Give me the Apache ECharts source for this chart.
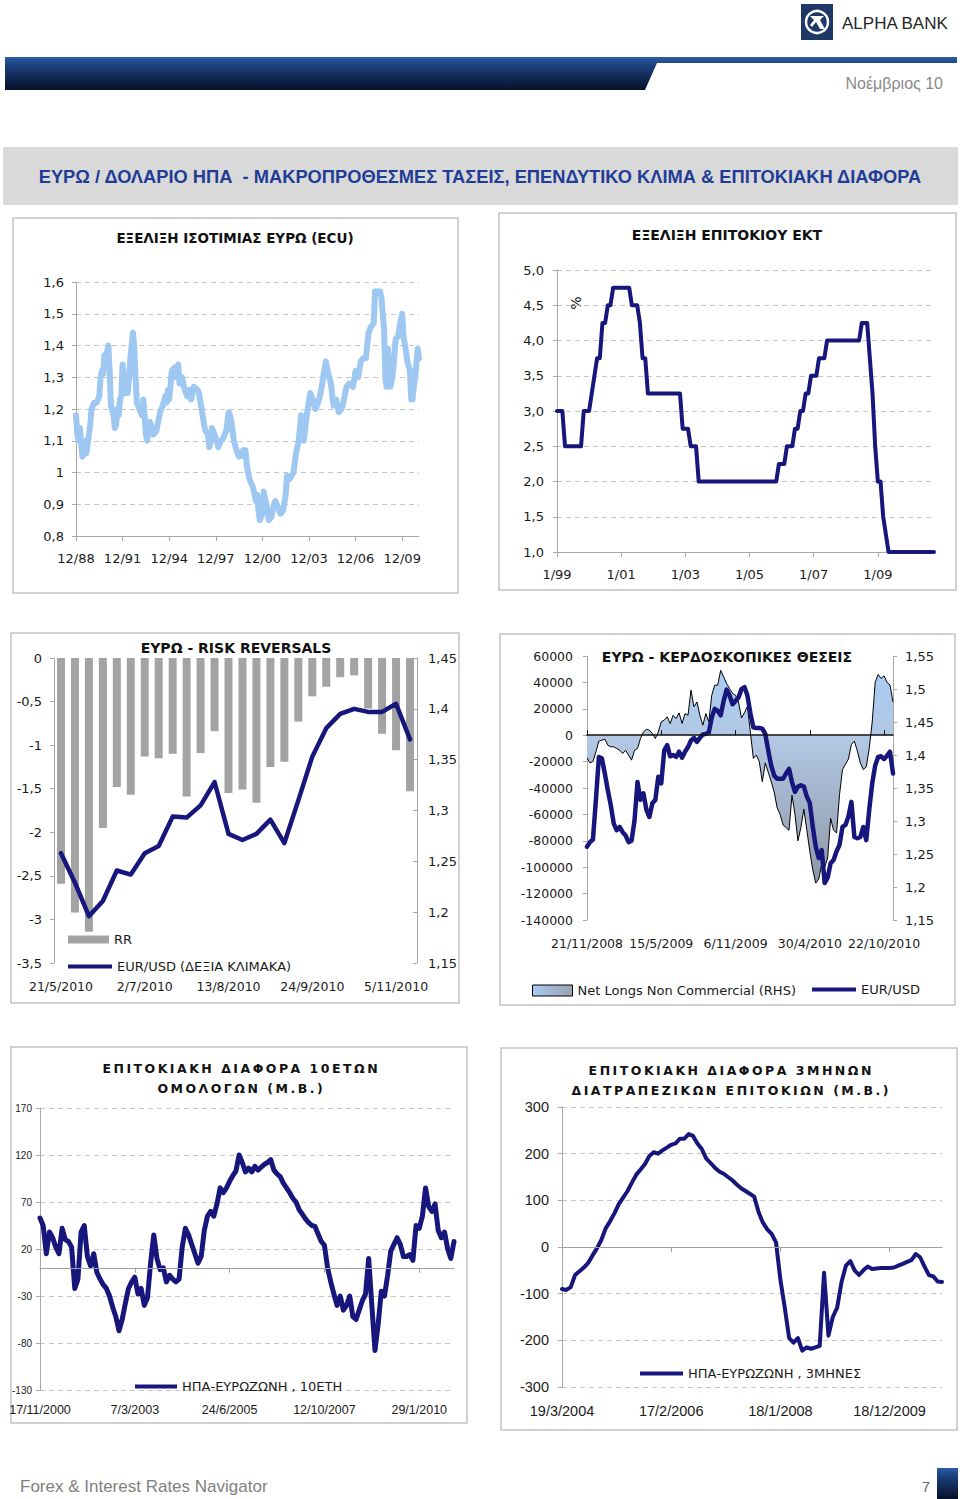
<!DOCTYPE html>
<html><head><meta charset="utf-8">
<script src="https://cdn.jsdelivr.net/npm/echarts@6/dist/echarts.min.js"></script>
<style>html,body{margin:0;padding:0;background:#fff}#c{width:960px;height:1499px}</style>
</head><body><div id="c"></div>
<script>
// ---------------- DATA ----------------
// Chart 1: EUR (ECU) / USD, month offsets from Dec 1988
const ecuMonths = [0,1,2,3,4,5,6,7,8,10, 11,12,14,16,18,19,20,21,22,23, 25,26,27,29,30,31,32,33,34,35,
  36,37,38,39,40,41,42,44,45,46, 47,49,51,52,53,54,55,57,58,60, 62,64,65,67,69,70,71,72,74,76,
  77,79,80,82,84,86,88,89,91,94, 95,97,99,100,102,103,104,105,107,110, 112,114,116,118,119,120,122,124,126,129,
  130,131,132,134,136,137,139,140,141,142, 144,145,146,148,149,151,153,154,155,158, 160,162,163,165,168,170,172,174,175,176,
  178,179,181,182,185,187,189,191,193,195, 197,198,199,201,203,205,206,209,211,214, 216,218,220,222,224,226,228,230,231,233,
  235,236,238,239,240,241,243,245,247,249, 250,252,253,255,256,258,259,260,261,262, 264,265];
const ecuRate = [1.18,1.12,1.10,1.14,1.09,1.05,1.07,1.10,1.06,1.12, 1.15,1.20,1.22,1.22,1.24,1.30,1.32,1.31,1.37,1.36, 1.40,1.32,1.21,1.18,1.14,1.15,1.20,1.18,1.23,1.24,
  1.34,1.29,1.25,1.30,1.25,1.30,1.36,1.44,1.40,1.30, 1.22,1.20,1.18,1.23,1.18,1.12,1.10,1.16,1.15,1.12, 1.13,1.17,1.19,1.21,1.24,1.22,1.26,1.23,1.32,1.33,
  1.30,1.34,1.28,1.30,1.26,1.24,1.26,1.23,1.27,1.26, 1.25,1.20,1.15,1.13,1.12,1.08,1.10,1.14,1.12,1.08, 1.10,1.11,1.13,1.19,1.18,1.16,1.10,1.07,1.05,1.07,
  1.05,1.07,1.02,0.98,0.96,0.95,0.91,0.93,0.88,0.85, 0.87,0.94,0.92,0.88,0.85,0.86,0.90,0.91,0.90,0.87, 0.88,0.93,0.99,0.98,1.00,1.06,1.10,1.18,1.15,1.10,
  1.17,1.20,1.25,1.24,1.20,1.22,1.25,1.30,1.35,1.31, 1.28,1.24,1.21,1.23,1.19,1.20,1.21,1.27,1.28,1.27, 1.32,1.30,1.35,1.36,1.36,1.44,1.46,1.47,1.57,1.57,
  1.57,1.55,1.45,1.30,1.27,1.39,1.27,1.32,1.42,1.43, 1.46,1.50,1.43,1.38,1.35,1.32,1.23,1.23,1.27,1.30, 1.39,1.36];

// Chart 2: ECB rate, monthly from Jan 1999
const ecbRate = [
  3.0,3.0,3.0,2.5,2.5,2.5,2.5,2.5,2.5,2.5,3.0,3.0,
  3.0,3.25,3.5,3.75,3.75,4.25,4.25,4.5,4.5,4.75,4.75,4.75,
  4.75,4.75,4.75,4.75,4.5,4.5,4.5,4.25,3.75,3.75,3.25,3.25,
  3.25,3.25,3.25,3.25,3.25,3.25,3.25,3.25,3.25,3.25,3.25,2.75,
  2.75,2.75,2.5,2.5,2.5,2.0,2.0,2.0,2.0,2.0,2.0,2.0,
  2.0,2.0,2.0,2.0,2.0,2.0,2.0,2.0,2.0,2.0,2.0,2.0,
  2.0,2.0,2.0,2.0,2.0,2.0,2.0,2.0,2.0,2.0,2.0,2.25,
  2.25,2.25,2.5,2.5,2.5,2.75,2.75,3.0,3.0,3.25,3.25,3.5,
  3.5,3.5,3.75,3.75,3.75,4.0,4.0,4.0,4.0,4.0,4.0,4.0,
  4.0,4.0,4.0,4.0,4.0,4.0,4.25,4.25,4.25,3.75,3.25,2.5,
  2.0,2.0,1.5,1.25,1.0,1.0,1.0,1.0,1.0,1.0,1.0,1.0,
  1.0,1.0,1.0,1.0,1.0,1.0,1.0,1.0,1.0,1.0];

// Chart 3: risk reversals (weekly from 21/5/2010)
const rrValues = [-2.59,-2.92,-3.14,-1.95,-1.48,-1.57,-1.13,-1.15,-1.10,-1.59,-1.09,-0.84,-1.55,-1.51,-1.66,-1.25,-1.19,-0.73,-0.44,-0.33,-0.22,-0.20,-0.58,-0.87,-1.06,-1.53];
const rrEurUsd = [1.258,1.229,1.196,1.211,1.241,1.237,1.258,1.265,1.294,1.293,1.305,1.328,1.277,1.271,1.277,1.291,1.268,1.310,1.353,1.381,1.395,1.400,1.397,1.397,1.405,1.370];

// Chart 4: speculative positions (weekly from 21/11/2008)
const netLongs = [-17200,-21000,-20000,-12600,-4500,-3800,-3000,-7600,-8800,-8800,
  -10100,-11400,-13900,-11400,-15100,-18900,-11400,-10100,-2500,2500,
  4500,3800,1300,-2500,2500,10100,11400,13900,8800,15100,
  12600,16900,8800,16400,15100,34100,21500,25200,15100,7600,
  16400,10100,30300,37900,37900,49200,44200,39100,35300,31600,
  30300,25200,13000,17000,22000,2000,-17600,-15100,-20000,-35300,
  -21000,-28000,-35000,-43000,-55000,-60000,-68000,-70000,-72000,-45400,
  -60000,-80000,-70000,-56000,-72000,-88000,-102000,-112000,-109000,-98000,
  -100000,-93000,-63000,-72000,-74000,-45000,-26000,-22000,-18000,-7000,
  -4500,-12000,-21000,-26000,-24000,-10000,10000,40000,46000,43000,
  45000,40000,38000,25000];
const cotEurUsd = [1.261,1.268,1.272,1.332,1.397,1.395,1.372,1.347,1.324,1.296,
  1.286,1.291,1.283,1.278,1.268,1.270,1.301,1.359,1.332,1.342,
  1.317,1.306,1.327,1.332,1.367,1.357,1.407,1.415,1.398,1.400,
  1.397,1.405,1.396,1.405,1.412,1.422,1.426,1.420,1.426,1.431,
  1.432,1.434,1.457,1.470,1.467,1.460,1.482,1.499,1.490,1.477,
  1.482,1.487,1.500,1.503,1.490,1.463,1.442,1.441,1.441,1.440,
  1.432,1.407,1.384,1.369,1.364,1.364,1.364,1.372,1.379,1.359,
  1.344,1.352,1.354,1.352,1.337,1.327,1.291,1.261,1.244,1.256,
  1.206,1.214,1.236,1.241,1.254,1.264,1.291,1.294,1.307,1.329,
  1.276,1.274,1.276,1.291,1.271,1.317,1.357,1.384,1.397,1.398,
  1.394,1.399,1.405,1.372];

// Chart 5: 10y spread US-EZ (bp), every 4 weeks from 17/11/2000
const spread10y = [53,45,15,38,32,22,15,42,30,28,
  22,-22,-12,38,45,12,2,15,-5,-12,
  -18,-22,-30,-42,-52,-67,-55,-38,-22,-15,
  -10,-28,-22,-40,-32,5,35,10,-2,0,
  -15,-8,-12,-15,-12,22,42,35,25,15,
  5,12,40,55,60,55,68,85,80,85,
  92,98,103,120,112,102,106,102,108,104,
  107,110,112,115,104,100,97,90,85,80,
  74,70,62,57,52,48,45,44,36,28,
  24,0,-15,-28,-40,-30,-45,-40,-30,-52,
  -55,-45,-35,-28,10,-40,-88,-60,-25,-30,
  -8,18,25,32,25,12,12,14,8,45,
  42,55,85,65,60,68,40,32,38,20,
  10,28];

// Chart 6: 3m interbank spread US-EZ (bp), every 4 weeks from 19/3/2004
const spread3m = [-90,-92,-86,-60,-52,-44,-34,-18,-3,15,
  40,55,72,92,106,120,138,155,166,178,
  195,203,200,207,213,219,222,232,232,242,
  238,222,210,190,180,170,162,157,150,143,
  134,126,120,114,108,75,52,38,28,10,
  -70,-130,-195,-205,-195,-222,-215,-218,-215,-212,
  -55,-190,-150,-130,-75,-40,-30,-50,-60,-50,
  -42,-47,-46,-45,-45,-45,-44,-40,-36,-32,
  -28,-15,-22,-42,-60,-63,-74,-75];

// ---------------- CATEGORIES ----------------
function monthLabels(startYear, startMonth, n){ const a=[]; for(let i=0;i<n;i++){ const t=startMonth-1+i; a.push((t%12+1)+'/'+String((startYear+Math.floor(t/12))%100).padStart(2,'0')); } return a; }
function dayLabels(y,m,d,stepDays,n){ const a=[]; for(let i=0;i<n;i++){ const dt=new Date(Date.UTC(y,m-1,d)+i*stepDays*86400000); a.push(dt.getUTCDate()+'/'+(dt.getUTCMonth()+1)+'/'+dt.getUTCFullYear()); } return a; }
const ecuCats = monthLabels(1988, 12, 266);
const ecbCats = monthLabels(1999, 1, ecbRate.length);
const rrCats = dayLabels(2010,5,21,7,rrValues.length);
const cotCats = dayLabels(2008,11,21,7,netLongs.length);
const s10Cats = dayLabels(2000,11,17,28,spread10y.length);
const s3Cats = dayLabels(2004,3,19,28,spread3m.length);

// ---------------- STYLE ----------------
const FV = '"DejaVu Sans", Verdana, sans-serif';
const FA = '"Liberation Sans", Arial, sans-serif';
const NAVY = '#16167c';
const AXIS = '#a8a8a8';
const GRIDC = '#c6c6c6';
const TXT = '#1a1a1a';
const dec = d => v => String(+(+v).toFixed(d)).replace('.', ',');
const fix = d => v => (+v).toFixed(d).replace('.', ',');
const spaced = s => s.split('').join('\u2009');

function catAxis(grid, data, o){
  return { gridIndex:grid, type:'category', data, boundaryGap:!!o.gap,
    axisLine:{show:o.line!==false, onZero:false, lineStyle:{color:AXIS}},
    axisTick:{show:o.tick!==false, interval:o.every-1, length:5, lineStyle:{color:AXIS}},
    axisLabel:{interval:o.every-1, margin:o.margin, color:TXT, fontFamily:o.font||FV, fontSize:o.size||13},
    splitLine:{show:false} };
}
function zeroAxis(grid, data, every, color, width, inside){
  return { gridIndex:grid, type:'category', data, boundaryGap:false, z:10,
    axisLine:{show:true, onZero:true, lineStyle:{color, width}},
    axisTick:{show:true, interval:every-1, inside, length:5, lineStyle:{color}},
    axisLabel:{show:false}, splitLine:{show:false} };
}
function valAxis(grid, min, max, interval, o){
  return { gridIndex:grid, type:'value', min, max, interval, position:o.pos||'left',
    axisLine:{show:true, lineStyle:{color:AXIS}},
    axisTick:{show:true, inside:!!o.tickInside, length:4, lineStyle:{color:AXIS}},
    axisLabel:{margin:o.margin, color:TXT, fontFamily:o.font||FV, fontSize:o.size||13, formatter:o.fmt},
    splitLine:{show:!!o.grid, lineStyle:{color:GRIDC, type:[5,4]}} };
}
function lineSeries(name, x, y, data, color, width, z){
  return { name, type:'line', xAxisIndex:x, yAxisIndex:y, data, symbol:'none', z:z||3,
    lineStyle:{color, width, join:'round', cap:'round'}, itemStyle:{color}, animation:false };
}
function lineLegend(name, left, top, w){
  return {data:[name], left, top, padding:0, itemWidth:w, itemHeight:4, icon:'rect', selectedMode:false, textStyle:legendText};
}
function txt(text, x, y, font, fill, align, extra){
  return Object.assign({ type:'text', x, y, silent:true,
    style:{ text, font, fill, align:align||'center', verticalAlign:'middle', textAlign:align||'center', textVerticalAlign:'middle' } }, extra||{});
}
function box(x, y, w, h){ return { type:'rect', silent:true, shape:{x, y, width:w, height:h}, style:{fill:'none', stroke:'#c2c2c2', lineWidth:1.5} }; }

const chart = echarts.init(document.getElementById('c'), null, {renderer:'svg', width:960, height:1499});

const areaGrad = new echarts.graphic.LinearGradient(0,0,0,1,[{offset:0,color:'#a8ccf2'},{offset:0.32,color:'#b2c8e4'},{offset:1,color:'#8e96a6'}]);
const legendGrad = new echarts.graphic.LinearGradient(0,0,1,0,[{offset:0,color:'#a8ccf2'},{offset:1,color:'#9aa2b0'}]);
const barGrad = new echarts.graphic.LinearGradient(0,0,0,1,[{offset:0,color:'#2b5ca6'},{offset:0.25,color:'#1b417e'},{offset:1,color:'#06112a'}]);
const legendText = {fontFamily:FV, fontSize:13, color:TXT};

const option = {
  animation:false,
  backgroundColor:'#ffffff',
  grid:[
    {left:76, top:282, width:343, height:254},
    {left:557, top:270, width:377, height:282},
    {left:54, top:658, width:363, height:305},
    {left:587, top:656, width:306, height:264},
    {left:40, top:1108, width:414, height:282},
    {left:562, top:1107, width:380, height:280}
  ].map(g => Object.assign(g, {containLabel:false, outerBoundsMode:'none'})),
  xAxis:[
    catAxis(0, ecuCats, {every:36, margin:16}),
    catAxis(1, ecbCats, {every:24, margin:16}),
    catAxis(2, rrCats, {every:6, margin:17, gap:true, line:false, tick:false, size:12.5}),
    catAxis(3, cotCats, {every:25, margin:17, line:false, tick:false, size:12.5}),
    zeroAxis(3, cotCats, 25, '#111111', 1.5, false),
    catAxis(4, s10Cats, {every:30, margin:13, line:false, tick:false, font:FA, size:12.5}),
    zeroAxis(4, s10Cats, 30, '#a0a0a0', 1, true),
    catAxis(5, s3Cats, {every:25, margin:16, line:false, tick:false, font:FA, size:14.5}),
    zeroAxis(5, s3Cats, 25, '#a0a0a0', 1, true)
  ],
  yAxis:[
    valAxis(0, 0.8, 1.6, 0.1, {margin:12, fmt:dec(1), grid:true}),
    valAxis(1, 1, 5, 0.5, {margin:13, fmt:fix(1), grid:true}),
    valAxis(2, -3.5, 0, 0.5, {margin:12, fmt:dec(1)}),
    valAxis(2, 1.15, 1.45, 0.05, {pos:'right', margin:11, fmt:dec(2), tickInside:true}),
    valAxis(3, -140000, 60000, 20000, {margin:14, fmt:v=>String(Math.round(v)), size:12.5}),
    valAxis(3, 1.15, 1.55, 0.05, {pos:'right', margin:12, fmt:dec(2)}),
    valAxis(4, -130, 170, 50, {margin:8, fmt:v=>String(Math.round(v)), font:FA, size:10, grid:true}),
    valAxis(5, -300, 300, 100, {margin:13, fmt:v=>String(Math.round(v)), font:FA, size:14.5, grid:true})
  ],
  legend:[
    {data:['RR'], left:68, top:933, padding:0, itemWidth:41, itemHeight:8, icon:'rect', selectedMode:false, textStyle:legendText},
    lineLegend('EUR/USD (ΔΕΞΙΑ ΚΛΙΜΑΚΑ)', 68, 960, 44),
    {data:['Net Longs Non Commercial (RHS)'], left:532, top:984, padding:0, itemWidth:40, itemHeight:11, icon:'rect', selectedMode:false,
      itemStyle:{color:legendGrad, borderColor:'#000', borderWidth:1}, textStyle:legendText},
    lineLegend('EUR/USD', 812, 983, 44),
    lineLegend('ΗΠΑ-ΕΥΡΩΖΩΝΗ , 10ΕΤΗ', 135, 1380, 42),
    lineLegend('ΗΠΑ-ΕΥΡΩΖΩΝΗ , 3ΜΗΝΕΣ', 640, 1367, 43)
  ],
  series:[
    lineSeries('ECU', 0, 0, ecuMonths.map((m,i)=>[m, ecuRate[i]]), '#9ec8f2', 6),
    lineSeries('ECB', 1, 1, ecbRate, NAVY, 4),
    { name:'RR', type:'bar', xAxisIndex:2, yAxisIndex:2, data:rrValues, barWidth:8, itemStyle:{color:'#a3a3a3'}, z:2 },
    lineSeries('EUR/USD (ΔΕΞΙΑ ΚΛΙΜΑΚΑ)', 2, 3, rrEurUsd, NAVY, 4.5),
    { name:'Net Longs Non Commercial (RHS)', type:'line', xAxisIndex:3, yAxisIndex:4, data:netLongs, symbol:'none', z:2,
      lineStyle:{color:'#000', width:1}, itemStyle:{color:'#000'}, areaStyle:{color:areaGrad, opacity:1} },
    lineSeries('EUR/USD', 3, 5, cotEurUsd, NAVY, 4.5, 4),
    lineSeries('ΗΠΑ-ΕΥΡΩΖΩΝΗ , 10ΕΤΗ', 5, 6, spread10y, NAVY, 5),
    lineSeries('ΗΠΑ-ΕΥΡΩΖΩΝΗ , 3ΜΗΝΕΣ', 7, 7, spread3m, NAVY, 4)
  ],
  graphic:{ elements:[
    // header
    {type:'rect', silent:true, shape:{x:801, y:4, width:32, height:36}, style:{fill:'#1d3767'}},
    {type:'circle', silent:true, shape:{cx:817, cy:22, r:11}, style:{fill:'none', stroke:'#ffffff', lineWidth:2.5}},
    {type:'polygon', silent:true, shape:{points:[[810,16],[824,16],[820,20],[825,29],[820,29],[816,22],[812,27],[810,25],[814,20]]}, style:{fill:'#ffffff'}},
    txt('ALPHA BANK', 842, 23, '17px "Liberation Sans", Arial, sans-serif', '#262626', 'left'),
    {type:'polygon', silent:true, shape:{points:[[5,57],[957,57],[957,63],[657,63],[645,90],[5,90]]}, style:{fill:barGrad}},
    txt('Νοέμβριος 10', 943, 83, '16px "Liberation Sans", Arial, sans-serif', '#8a8a8a', 'right'),
    {type:'rect', silent:true, shape:{x:3, y:147, width:955, height:58}, style:{fill:'#d9d9d9'}},
    txt('ΕΥΡΩ / ΔΟΛΑΡΙΟ ΗΠΑ  - ΜΑΚΡΟΠΡΟΘΕΣΜΕΣ ΤΑΣΕΙΣ, ΕΠΕΝΔΥΤΙΚΟ ΚΛΙΜΑ & ΕΠΙΤΟΚΙΑΚΗ ΔΙΑΦΟΡΑ', 480, 176, 'bold 18.3px "Liberation Sans", Arial, sans-serif', '#1f3c96'),
    // panels
    box(13, 218, 445, 375), box(499, 213, 457, 377), box(11, 633, 448, 370),
    box(500, 634, 455, 371), box(11, 1047, 456, 376), box(501, 1048, 456, 382),
    // titles
    txt('ΕΞΕΛΙΞΗ ΙΣΟΤΙΜΙΑΣ ΕΥΡΩ (ECU)', 235, 238, 'bold 13.5px "DejaVu Sans", Verdana, sans-serif', '#111'),
    txt('ΕΞΕΛΙΞΗ ΕΠΙΤΟΚΙΟΥ ΕΚΤ', 727, 235, 'bold 14px "DejaVu Sans", Verdana, sans-serif', '#111'),
    txt('%', 576, 303, '14px "DejaVu Sans", Verdana, sans-serif', '#111', 'center', {rotation:Math.PI/2}),
    txt('ΕΥΡΩ - RISK REVERSALS', 236, 648, 'bold 14px "DejaVu Sans", Verdana, sans-serif', '#111'),
    txt('ΕΥΡΩ - ΚΕΡΔΟΣΚΟΠΙΚΕΣ ΘΕΣΕΙΣ', 727, 657, 'bold 14px "DejaVu Sans", Verdana, sans-serif', '#111'),
    txt(spaced('ΕΠΙΤΟΚΙΑΚΗ ΔΙΑΦΟΡΑ 10ΕΤΩΝ'), 240, 1068, 'bold 12.5px "DejaVu Sans", Verdana, sans-serif', '#111'),
    txt(spaced('ΟΜΟΛΟΓΩΝ (Μ.Β.)'), 240, 1088, 'bold 12.5px "DejaVu Sans", Verdana, sans-serif', '#111'),
    txt(spaced('ΕΠΙΤΟΚΙΑΚΗ ΔΙΑΦΟΡΑ 3ΜΗΝΩΝ'), 730, 1070, 'bold 12.5px "DejaVu Sans", Verdana, sans-serif', '#111'),
    txt(spaced('ΔΙΑΤΡΑΠΕΖΙΚΩΝ ΕΠΙΤΟΚΙΩΝ (Μ.Β.)'), 730, 1090, 'bold 12.5px "DejaVu Sans", Verdana, sans-serif', '#111'),
    // footer
    txt('Forex & Interest Rates Navigator', 20, 1486, '17px "Liberation Sans", Arial, sans-serif', '#808080', 'left'),
    txt('7', 926, 1486, '15px "Liberation Sans", Arial, sans-serif', '#6a6a6a'),
    {type:'rect', silent:true, shape:{x:937, y:1468, width:21, height:31}, style:{fill:barGrad}}
  ]}
};
chart.setOption(option);
</script></body></html>
